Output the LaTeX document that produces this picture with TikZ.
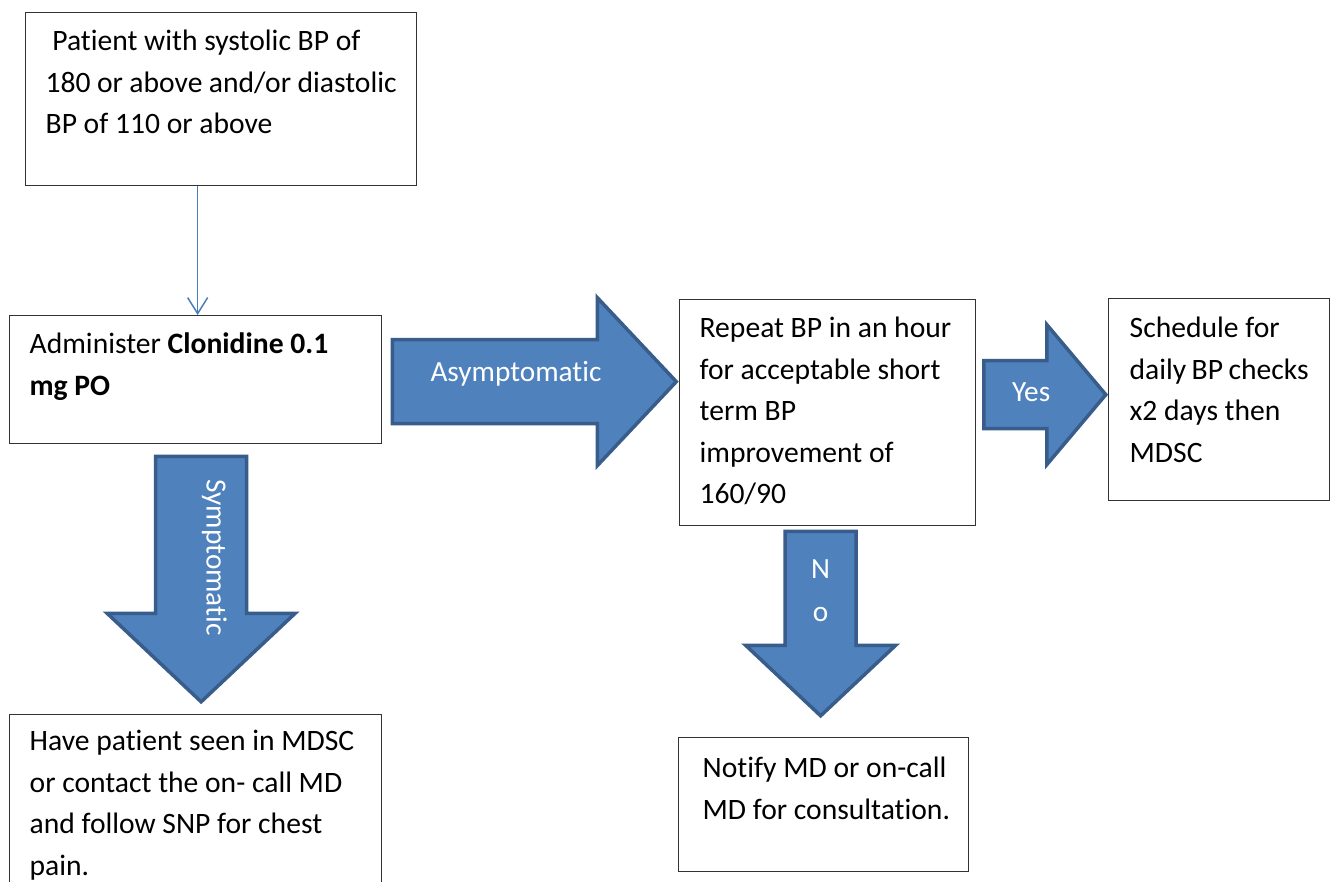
\documentclass[tikz,border=0pt]{standalone}
\usepackage{fontspec}
\setmainfont{Carlito}[Ligatures=NoCommon]
\usetikzlibrary{arrows.meta,calc}

\definecolor{arrowFill}{HTML}{4F81BD}
\definecolor{arrowEdge}{HTML}{385D8A}
\definecolor{linkBlue}{HTML}{4A7EBB}

\begin{document}
\begin{tikzpicture}
    [x=1pt, y=-1pt,
     flowBox/.style={draw=black!80, line width=1.3pt, anchor=north west,
                     inner xsep=20pt, inner ysep=0pt, text height=38pt,
                     font=\fontsize{29.6}{41.5}\selectfont},
     flowArrow/.style={draw=linkBlue, line width=1.5pt,
                       -{Straight Barb[length=16pt, width=20pt]}},
     blockArrow/.style={fill=arrowFill, draw=arrowEdge, line width=3.5pt, line join=miter},
     arrowText/.style={text=white, inner sep=0pt, font=\fontsize{29.3}{43}\selectfont}]

    \useasboundingbox[fill=white] (0,0) rectangle (1330,882);
    \clip (0,0) rectangle (1330,882);

    \node[flowBox, text depth=135pt] (patient) at (25,12)
        {\parbox[t]{351pt}{\ Patient with systolic BP of\\180 or above and/or diastolic\\BP of 110 or above}};
    \node[flowBox, text depth=90pt] (administer) at (9,315)
        {\parbox[t]{332pt}{Administer \textbf{Clonidine 0.1}\\\textbf{mg PO}}};
    \node[flowBox, text height=36pt, text depth=150pt] (seenInMDSC) at (9,714)
        {\parbox[t]{332pt}{Have patient seen in MDSC\\or contact the on- call MD\\and follow SNP for chest\\pain.}};
    \node[flowBox, text depth=188pt] (repeatBP) at (679,299)
        {\parbox[t]{256pt}{Repeat BP in an hour\\for acceptable short\\term BP\\improvement of\\160/90}};
    \node[flowBox, inner xsep=21pt, text height=39pt, text depth=163pt] (schedule) at (1108,298)
        {\parbox[t]{179pt}{Schedule for\\daily~BP~checks\\x2 days then\\MDSC}};
    \node[flowBox, inner xsep=24pt, text height=40pt, text depth=94pt] (notify) at (678,737)
        {\parbox[t]{242pt}{\mbox{Notify MD or on-call}\\\mbox{MD for consultation.}}};

    \coordinate (adminTop) at ([xshift=2pt]administer.north);
    \draw[flowArrow] (patient.south -| adminTop) -- (adminTop);

    % Asymptomatic
    \coordinate (asymTail) at ($(administer.east)+(10,2)$);
    \draw[blockArrow] (asymTail) ++(0,-42) -- ++(205,0) -- ++(0,-42) -- ++(79,84)
        -- ++(-79,84) -- ++(0,-42) -- ++(-205,0) -- cycle;
    \node[arrowText, anchor=base west] (asymLabel) at ($(asymTail)+(38,0)$) {Asymptomatic};

    % Symptomatic
    \coordinate (sympTail) at ($(administer.south)+(5.5,12)$);
    \draw[blockArrow] (sympTail) ++(-45.5,0) -- ++(0,157) -- ++(-48.5,0) -- ++(94,88.5)
        -- ++(94,-88.5) -- ++(-48.5,0) -- ++(0,-157) -- cycle;
    \node[arrowText, rotate=-90, anchor=base west] (sympLabel) at ($(sympTail)+(5.5,23)$) {Symptomatic};

    % Yes
    \coordinate (yesTail) at ($(repeatBP.east)+(7.5,-18)$);
    \draw[blockArrow] (yesTail) ++(0,-34) -- ++(63,0) -- ++(0,-36) -- ++(59,70)
        -- ++(-59,70) -- ++(0,-36) -- ++(-63,0) -- cycle;
    \node[arrowText, anchor=base west] (yesLabel) at ($(yesTail)+(28,7)$) {Yes};

    % No
    \coordinate (noTail) at ($(repeatBP.south)+(-7,5)$);
    \draw[blockArrow] (noTail) ++(-35.5,0) -- ++(0,114) -- ++(-39.5,0) -- ++(75,70.5)
        -- ++(75,-70.5) -- ++(-39.5,0) -- ++(0,-114) -- cycle;
    \node[arrowText, anchor=base] (noLabel) at ($(noTail)+(0,47)$)
        {\begin{tabular}[t]{@{}c@{}}N\\o\end{tabular}};
\end{tikzpicture}
\end{document}
